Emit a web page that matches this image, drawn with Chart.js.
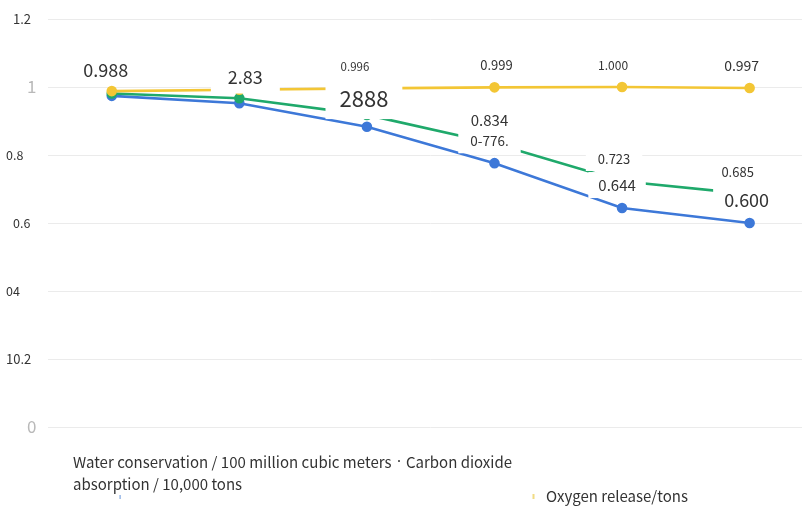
<!DOCTYPE html>
<html>
<head>
<meta charset="utf-8">
<script src="https://cdn.jsdelivr.net/npm/chart.js@4.4.1/dist/chart.umd.min.js"></script>
<style>
  html, body { margin: 0; padding: 0; background: #fff; overflow: hidden; }
  canvas { display: block; }
</style>
</head>
<body>
<canvas id="c" width="820" height="509"></canvas>
<script>
// ---- data ----
const categories = ['1', '2', '3', '4', '5', '6'];
const waterValues  = [0.974, 0.952, 0.883, 0.776, 0.644, 0.600];
const carbonValues = [0.981, 0.967, 0.918, 0.834, 0.723, 0.685];
const oxygenValues = [0.988, 0.992, 0.996, 0.999, 1.000, 0.997];

const waterLabels  = [null, null, null, '0-776.', '0.644', '0.600'];
const carbonLabels = [null, null, '2888', '0.834', '0.723', '0.685'];
const oxygenLabels = ['0.988', '2.83', '0.996', '0.999', '1.000', '0.997'];

const yTickValues = [1.2, 1, 0.8, 0.6, 0.4, 0.2, 0];
const yTickLabels = ['1.2', '1', '0.8', '0.6', '04', '10.2', '0'];

const legendWater = 'Water conservation / 100 million cubic meters';
const legendSeparator = '·';
const legendCarbon = ['Carbon dioxide', 'absorption / 10,000 tons'];
const legendOxygen = 'Oxygen release/tons';

// ---- styles ----
const FONT = '"Noto Sans CJK SC", "Noto Sans", sans-serif';
const LATIN_FONT = '"Noto Sans", sans-serif';
const TEXT = '#333333';
const BLUE = '#3d78d8';
const GREEN = '#1fa96b';
const YELLOW = '#f3c635';

// label placement relative to its point: dx, dy, font size, box padding
const labelStyles = {
  water: [null, null, null,
    { dx: -5, dy: -22, size: 13.5, padX: 12, padY: 4 },
    { dx: -5, dy: -23, size: 15,   padX: 10, padY: 4 },
    { dx: -3, dy: -23, size: 18,   padX: 11, padY: 4 }],
  carbon: [null, null,
    { dx: -3, dy: -16, size: 22,   padX: 14, padY: 7 },
    { dx: -5, dy: -23, size: 15,   padX: 10, padY: 4 },
    { dx: -8, dy: -22, size: 13,   padX: 12, padY: 4 },
    { dx: -12, dy: -22, size: 13,  padX: 11, padY: 4 }],
  oxygen: [
    { dx: -6, dy: -21, size: 18,   padX: 12, padY: 4 },
    { dx: 6,  dy: -13, size: 18,   padX: 17, padY: 6 },
    { dx: -12, dy: -22, size: 11.5, padX: 10, padY: 4 },
    { dx: 2,  dy: -22, size: 13,   padX: 10, padY: 4 },
    { dx: -9, dy: -22, size: 12,   padX: 10, padY: 4 },
    { dx: -8, dy: -22, size: 14,   padX: 10, padY: 4 }]
};

// y-axis label look: left edge, size, colour
const yTickStyles = [
  { left: 13, size: 13, color: TEXT },
  { left: 27, size: 17, color: '#b9b9b9' },
  { left: 6,  size: 12.5, color: TEXT },
  { left: 13, size: 12.5, color: TEXT },
  { left: 6,  size: 12.5, color: TEXT },
  { left: 6,  size: 13, color: TEXT },
  { left: 27, size: 17, color: '#b9b9b9' }
];

// legend row layout: [start, end] spans for the first line's pieces
const legendLayout = {
  size: 15,
  line1Y: 462, line2Y: 484, oxygenY: 496,
  waterSpan: [73, 391.5],
  separatorX: 399,
  carbonSpan: [406, 512],
  line2X: 73,
  oxygenX: 546
};

// boxed value labels drawn over the lines
const valueBoxes = {
  id: 'valueBoxes',
  afterDatasetsDraw(chart) {
    const ctx = chart.ctx;
    const items = [];
    chart.data.datasets.forEach((ds, i) => {
      const meta = chart.getDatasetMeta(i);
      const styles = labelStyles[ds.key];
      ds.boxLabels.forEach((txt, j) => {
        if (!txt) return;
        const st = styles[j];
        const pt = meta.data[j];
        items.push({ txt, st, x: pt.x + st.dx, y: pt.y + st.dy });
      });
    });
    ctx.save();
    ctx.textAlign = 'center';
    ctx.textBaseline = 'middle';
    items.forEach(it => {
      ctx.font = `${it.st.size}px ${FONT}`;
      const w = ctx.measureText(it.txt).width;
      const h = it.st.size * 1.2;
      ctx.fillStyle = '#ffffff';
      ctx.fillRect(it.x - w / 2 - it.st.padX, it.y - h / 2 - it.st.padY, w + 2 * it.st.padX, h + 2 * it.st.padY);
    });
    items.forEach(it => {
      ctx.font = `${it.st.size}px ${FONT}`;
      ctx.fillStyle = TEXT;
      ctx.fillText(it.txt, it.x, it.y);
    });
    ctx.restore();
  }
};

// y-axis labels placed at the scale's tick positions
const yLabels = {
  id: 'yLabels',
  afterDraw(chart) {
    const ctx = chart.ctx;
    const scale = chart.scales.y;
    ctx.save();
    ctx.textAlign = 'left';
    ctx.textBaseline = 'middle';
    yTickValues.forEach((v, i) => {
      const st = yTickStyles[i];
      ctx.font = `${st.size}px ${FONT}`;
      ctx.fillStyle = st.color;
      ctx.fillText(yTickLabels[i], st.left, scale.getPixelForValue(v));
    });
    ctx.restore();
  }
};

// draws text so that it fills the given horizontal span
function fillSpan(ctx, text, span, y) {
  ctx.letterSpacing = '0px';
  const natural = ctx.measureText(text).width;
  const extra = (span[1] - span[0] - natural) / Math.max(1, text.length - 1);
  ctx.letterSpacing = `${extra}px`;
  ctx.fillText(text, span[0], y);
  ctx.letterSpacing = '0px';
}

// legend text under the plot
const bottomLegend = {
  id: 'bottomLegend',
  afterDraw(chart) {
    const ctx = chart.ctx;
    const L = legendLayout;
    ctx.save();
    ctx.textAlign = 'left';
    ctx.textBaseline = 'middle';
    ctx.fillStyle = TEXT;
    ctx.font = `${L.size}px ${FONT}`;
    fillSpan(ctx, legendWater, L.waterSpan, L.line1Y);
    fillSpan(ctx, legendCarbon[0], L.carbonSpan, L.line1Y);
    ctx.fillText(legendCarbon[1], L.line2X, L.line2Y);
    ctx.fillText(legendOxygen, L.oxygenX, L.oxygenY);
    ctx.font = `${L.size}px ${LATIN_FONT}`;
    ctx.textAlign = 'center';
    ctx.fillText(legendSeparator, L.separatorX, L.line1Y);
    ctx.fillStyle = '#7fa6e0';
    ctx.fillRect(119.5, 495, 1.2, 4);
    ctx.fillStyle = '#f1dc84';
    ctx.fillRect(532.5, 494, 2, 5);
    ctx.restore();
  }
};

const lineDataset = (key, label, values, labels, color, order) => ({
  key, label, data: values, boxLabels: labels, order,
  borderColor: color, backgroundColor: color,
  pointBackgroundColor: color, pointBorderColor: color,
  borderWidth: 2.6, pointRadius: 4, pointHoverRadius: 4,
  tension: 0, fill: false
});

new Chart(document.getElementById('c'), {
  type: 'line',
  data: {
    labels: categories,
    datasets: [
      lineDataset('water', 'Water conservation / 100 million cubic meters', waterValues, waterLabels, BLUE, 3),
      lineDataset('carbon', 'Carbon dioxide absorption / 10,000 tons', carbonValues, carbonLabels, GREEN, 2),
      lineDataset('oxygen', 'Oxygen release/tons', oxygenValues, oxygenLabels, YELLOW, 1)
    ]
  },
  options: {
    responsive: false,
    animation: false,
    layout: { padding: { left: 0, right: 0, top: 19, bottom: 82 } },
    plugins: { legend: { display: false }, tooltip: { enabled: false } },
    scales: {
      x: { type: 'category', offset: true, display: false },
      y: {
        min: 0, max: 1.2,
        ticks: { stepSize: 0.2, display: false },
        grid: { color: '#ebebeb', lineWidth: 1, drawTicks: false },
        border: { display: false },
        afterFit: s => { s.width = 48; }
      }
    }
  },
  plugins: [valueBoxes, yLabels, bottomLegend]
});
</script>
</body>
</html>
